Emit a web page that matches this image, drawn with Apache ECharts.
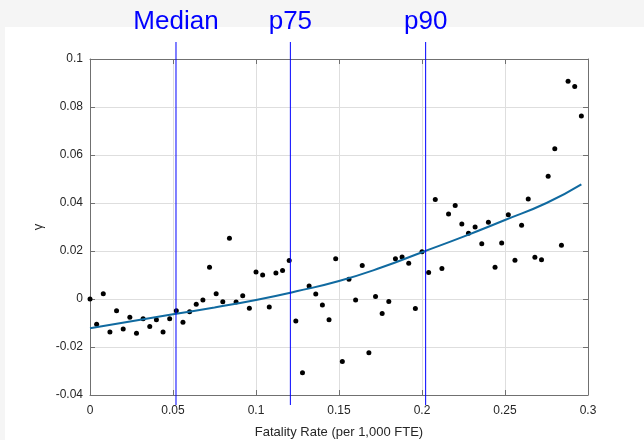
<!DOCTYPE html>
<html>
<head>
<meta charset="utf-8">
<script src="https://cdn.jsdelivr.net/npm/echarts@6/dist/echarts.min.js"></script>
<style>
html,body{margin:0;padding:0;background:#f5f5f5;}
#c{width:644px;height:440px;}
</style>
</head>
<body>
<div id="c"></div>
<script>
// Scatter points: fatality rate (x) vs gamma (y)
const xVals = [0.000,0.004,0.008,0.012,0.016,0.020,0.024,0.028,0.032,0.036,
  0.040,0.044,0.048,0.052,0.056,0.060,0.064,0.068,0.072,0.076,
  0.080,0.084,0.088,0.092,0.096,0.100,0.104,0.108,0.112,0.116,
  0.120,0.124,0.128,0.132,0.136,0.140,0.144,0.148,0.152,0.156,
  0.160,0.164,0.168,0.172,0.176,0.180,0.184,0.188,0.192,0.196,
  0.200,0.204,0.208,0.212,0.216,0.220,0.224,0.228,0.232,0.236,
  0.240,0.244,0.248,0.252,0.256,0.260,0.264,0.268,0.272,0.276,
  0.280,0.284,0.288,0.292,0.296];
const gammaVals = [0.0000,-0.0105,0.0022,-0.0138,-0.0049,-0.0125,-0.0076,-0.0143,-0.0082,-0.0115,
  -0.0086,-0.0138,-0.0082,-0.0049,-0.0097,-0.0053,-0.0022,-0.0004,0.0132,0.0022,
  -0.0011,0.0253,-0.0013,0.0014,-0.0039,0.0113,0.0100,-0.0033,0.0108,0.0119,
  0.0160,-0.0092,-0.0307,0.0054,0.0021,-0.0025,-0.0086,0.0168,-0.0260,0.0082,
  -0.0004,0.0140,-0.0224,0.0010,-0.0060,-0.0010,0.0168,0.0175,0.0149,-0.0040,
  0.0197,0.0110,0.0415,0.0127,0.0354,0.0390,0.0313,0.0274,0.0300,0.0230,
  0.0320,0.0132,0.0233,0.0351,0.0161,0.0307,0.0417,0.0174,0.0164,0.0511,
  0.0626,0.0224,0.0907,0.0885,0.0762];

// Fitted curve
const fitX = [0,0.025,0.05,0.075,0.1,0.125,0.15,0.175,0.2,0.225,0.25,0.275,0.296];
const fitY = [-0.0122,-0.0093,-0.0064,-0.0035,-0.0004,0.0033,0.0075,0.0130,0.0195,0.0260,0.0329,0.0400,0.0478];

// Reference lines
const refVals = [0.0518,0.1207,0.2022];
const refLabels = ['Median','p75','p90'];

// Axis ticks
const xTicks = [0,0.05,0.1,0.15,0.2,0.25,0.3];
const yTicks = [-0.04,-0.02,0,0.02,0.04,0.06,0.08,0.1];

const scatterData = xVals.map((x,i)=>[x,gammaVals[i]]);
const fitData = fitX.map((x,i)=>[x,fitY[i]]);

const FONT = '"Liberation Sans", Arial, sans-serif';
const axisCol = '#707070';
const gridCol = '#dedede';

const chart = echarts.init(document.getElementById('c'), null, {renderer:'canvas'});
chart.setOption({
  backgroundColor: 'transparent',
  animation: false,
  grid: {left: 90, right: 56, top: 59, bottom: 45, containLabel: false, outerBoundsMode: 'none'},
  xAxis: [{
    type: 'value', min: xTicks[0], max: xTicks[xTicks.length-1], interval: 0.05,
    name: 'Fatality Rate (per 1,000 FTE)', nameLocation: 'middle', nameGap: 31,
    nameTextStyle: {fontFamily: FONT, fontSize: 13, color: '#262626'},
    axisLine: {show: true, onZero: false, lineStyle: {color: axisCol, width: 1}},
    axisTick: {show: true, inside: true, length: 5, lineStyle: {color: axisCol}},
    axisLabel: {fontFamily: FONT, fontSize: 12, color: '#262626', margin: 10,
      formatter: v => String(+v.toFixed(2))},
    splitLine: {show: true, lineStyle: {color: gridCol, width: 1}}
  },{
    type: 'value', position: 'top', min: xTicks[0], max: xTicks[xTicks.length-1], interval: 0.05,
    axisLine: {show: true, onZero: false, lineStyle: {color: axisCol}},
    axisTick: {show: true, inside: true, length: 5, lineStyle: {color: axisCol}},
    axisLabel: {show: false}, splitLine: {show: false}
  }],
  yAxis: [{
    type: 'value', min: yTicks[0], max: yTicks[yTicks.length-1], interval: 0.02,
    name: 'γ', nameLocation: 'middle', nameGap: 34, nameRotate: 90,
    nameTextStyle: {fontFamily: FONT, fontSize: 13, color: '#262626'},
    axisLine: {show: true, onZero: false, lineStyle: {color: axisCol, width: 1}},
    axisTick: {show: true, inside: true, length: 5, lineStyle: {color: axisCol}},
    axisLabel: {fontFamily: FONT, fontSize: 12, color: '#262626', margin: 7,
      formatter: v => String(+v.toFixed(2))},
    splitLine: {show: true, lineStyle: {color: gridCol, width: 1}}
  },{
    type: 'value', position: 'right', min: yTicks[0], max: yTicks[yTicks.length-1], interval: 0.02,
    axisLine: {show: true, onZero: false, lineStyle: {color: axisCol}},
    axisTick: {show: true, inside: true, length: 5, lineStyle: {color: axisCol}},
    axisLabel: {show: false}, splitLine: {show: false}
  }],
  series: [{
    type: 'scatter', data: scatterData, symbol: 'circle', symbolSize: 5,
    itemStyle: {color: '#000', opacity: 1}, z: 3
  },{
    type: 'line', data: fitData, smooth: true, showSymbol: false,
    lineStyle: {color: '#106aa0', width: 2}, z: 4
  }]
});

// Reference lines placed through the axis scale
const gfx = [{
  type: 'rect', shape: {x: 5, y: 27, width: 644, height: 420},
  style: {fill: '#ffffff'}, z: -100, silent: true
}];
refVals.forEach((v,i)=>{
  const px = chart.convertToPixel({xAxisIndex: 0}, v);
  gfx.push({type: 'line', shape: {x1: px, y1: 42, x2: px, y2: 405},
    style: {stroke: '#0000ff', lineWidth: 1}, z: 100});
  gfx.push({type: 'text', x: px, y: 22,
    style: {text: refLabels[i], fill: '#0000ff', font: '26px ' + FONT,
      textAlign: 'center', textVerticalAlign: 'middle'}, z: 100});
});
chart.setOption({graphic: gfx});
</script>
</body>
</html>
